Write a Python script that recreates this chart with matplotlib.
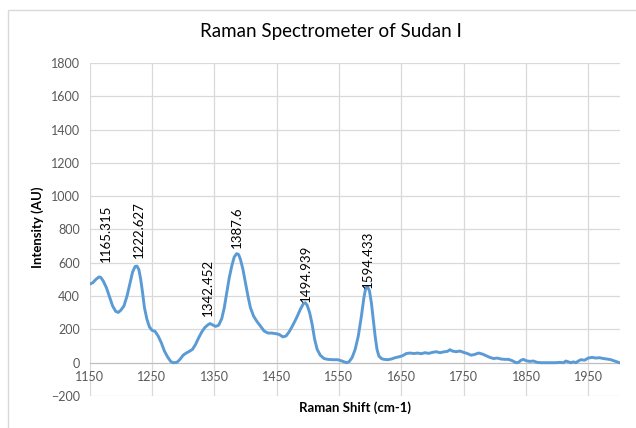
import matplotlib
matplotlib.use("Agg")
import matplotlib.pyplot as plt
from matplotlib.patches import Rectangle

shift = [1150, 1155, 1160, 1165, 1168, 1172, 1177, 1182, 1187, 1192, 1196, 1200, 1205, 1210, 1215,
         1219, 1223, 1226, 1229, 1232, 1235, 1238, 1242, 1246, 1250, 1255, 1260, 1265, 1270, 1275,
         1280, 1284, 1290, 1295, 1300, 1305, 1310, 1315, 1320, 1325, 1330, 1335, 1340, 1343, 1347,
         1352, 1357, 1362, 1366, 1370, 1374, 1378, 1382, 1386, 1389, 1392, 1396, 1400, 1404, 1408,
         1413, 1418, 1424, 1430, 1436, 1442, 1448, 1454, 1460, 1465, 1470, 1476, 1482, 1488, 1493,
         1496, 1499, 1503, 1507, 1511, 1515, 1520, 1526, 1532, 1540, 1548, 1555, 1562, 1566, 1571,
         1576, 1581, 1586, 1590, 1593, 1596, 1599, 1602, 1605, 1608, 1611, 1614, 1618, 1622, 1628,
         1634, 1640, 1646, 1652, 1658, 1664, 1670, 1676, 1682, 1688, 1694, 1700, 1706, 1712, 1718,
         1724, 1728, 1732, 1738, 1744, 1750, 1756, 1762, 1768, 1774, 1780, 1786, 1792, 1798, 1804,
         1810, 1816, 1822, 1828, 1834, 1838, 1842, 1846, 1850, 1856, 1862, 1868, 1874, 1880, 1886,
         1892, 1898, 1904, 1910, 1914, 1918, 1922, 1926, 1930, 1934, 1938, 1944, 1950, 1956, 1962,
         1968, 1974, 1980, 1986, 1992, 1998, 2000]
intensity = [472, 480, 500, 515, 512, 490, 450, 395, 340, 308, 302, 315, 340, 400, 480,
             545, 578, 580, 560, 500, 420, 330, 260, 215, 195, 188, 160, 120, 70, 35,
             8, 0, 2, 20, 45, 58, 68, 80, 110, 150, 185, 212, 228, 235, 228,
             218, 225, 265, 330, 420, 510, 580, 635, 655, 650, 620, 560, 480, 400, 330,
             280, 250, 220, 190, 178, 178, 175, 170, 155, 160, 185, 225, 270, 320, 355,
             360, 345, 300, 230, 140, 80, 45, 25, 20, 18, 18, 10, 0, 5, 30,
             80, 160, 280, 390, 450, 455, 430, 360, 260, 160, 80, 40, 25, 20, 18,
             22, 30, 35, 42, 55, 58, 55, 58, 54, 60, 56, 62, 66, 60, 65,
             68, 78, 70, 66, 70, 62, 55, 45, 50, 58, 52, 42, 32, 25, 28,
             22, 20, 20, 12, 0, 2, 15, 20, 12, 8, 10, 2, 0, 0, 0,
             0, 0, 2, 0, 10, 5, 0, 5, 0, 10, 18, 15, 28, 32, 28,
             30, 25, 22, 18, 10, 2, 0]

peak_labels = ["1165.315", "1222.627", "1342.452", "1387.6", "1494.939", "1594.433"]
label_x = [1176, 1229, 1340, 1386.5, 1497, 1597]
label_y = [602, 626, 283, 687, 367, 446]

x_ticks = [1150, 1250, 1350, 1450, 1550, 1650, 1750, 1850, 1950]
y_ticks = [-200, 0, 200, 400, 600, 800, 1000, 1200, 1400, 1600, 1800]

plt.rcParams['font.family'] = ['Lato', 'DejaVu Sans']

W, H = 636, 428
fig = plt.figure(figsize=(W / 100, H / 100), dpi=100)
fig.patches.append(Rectangle((8 / W, -0.1), 1.2, 1 - 10 / H + 0.1, transform=fig.transFigure,
                             fill=False, edgecolor='#d9d9d9', linewidth=1))

ax = fig.add_axes([89.6 / W, 1 - 396 / H, (619.5 - 89.6) / W, (396 - 63) / H])
ax.plot(shift, intensity, color='#5B9BD5', linewidth=2.1, solid_joinstyle='round')
ax.set_xlim(1150, 2000)
ax.set_ylim(-200, 1800)
ax.set_xticks(x_ticks)
ax.set_yticks(y_ticks)
for yv in y_ticks:
    ax.axhline(yv, color='#d9d9d9', linewidth=0.9, zorder=0)
for xv in x_ticks:
    ax.axvline(xv, color='#d9d9d9', linewidth=0.9, zorder=0)
for s in ['top', 'right', 'left']:
    ax.spines[s].set_visible(False)
ax.spines['bottom'].set_position(('data', 0))
ax.spines['bottom'].set_color('#bfbfbf')
ax.spines['bottom'].set_zorder(0.5)
ax.tick_params(axis='both', length=0, labelsize=9, labelcolor='#595959', pad=7)
ax.tick_params(axis='x', pad=6)

for t, xv, yv in zip(peak_labels, label_x, label_y):
    ax.text(xv, yv, t, rotation=90, ha='center', va='bottom', fontsize=9.5, color='#000000')

fig.text(331 / W, 1 - 32 / H, 'Raman Spectrometer of Sudan I', ha='center', va='center',
         fontsize=13.5, color='#000000')
fig.text(38 / W, 1 - 227 / H, 'Intensity (AU)', rotation=90, ha='center', va='center',
         fontsize=9.5, fontweight='bold', color='#000000')
fig.text(355 / W, 1 - 408 / H, 'Raman Shift (cm-1)', ha='center', va='center',
         fontsize=9.5, fontweight='bold', color='#000000')

fig.savefig('out.png', dpi=100)
